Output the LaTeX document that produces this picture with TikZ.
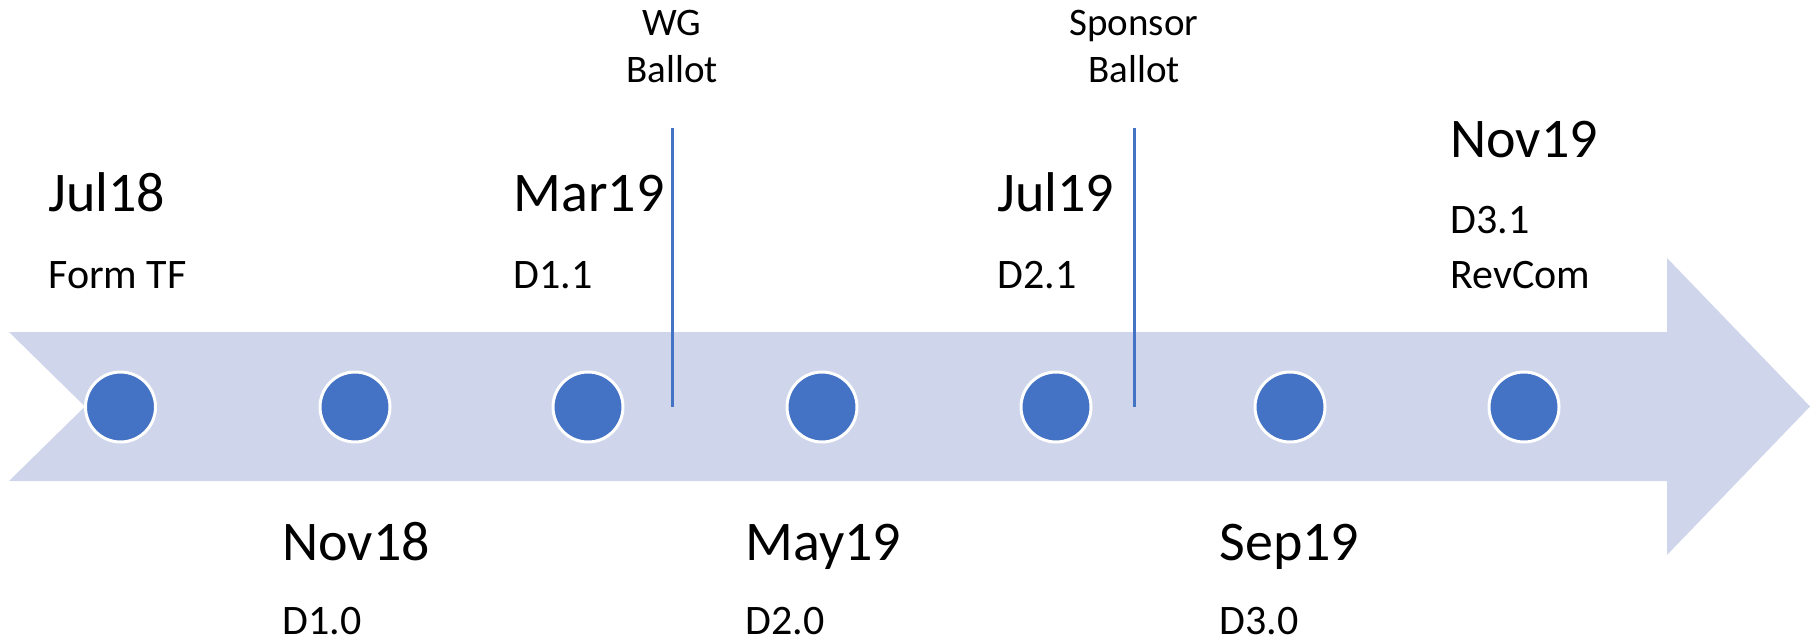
\documentclass[tikz,border=0pt]{standalone}
\usepackage{fontspec}
\setmainfont{Carlito}
\usepackage{tikz}
\usetikzlibrary{graphs}
\usepackage{xcolor}
\definecolor{bandfill}{RGB}{207,213,234}
\definecolor{dotblue}{RGB}{68,114,196}

\begin{document}
\begin{tikzpicture}[x=0.5pt, y=-0.5pt,
        dot/.style={circle, fill=dotblue, draw=white, line width=1.5pt, minimum size=35pt, inner sep=0pt},
        month/.style={anchor=base west, inner sep=0pt, font=\fontsize{28}{32}\selectfont},
        draft/.style={anchor=base west, inner sep=0pt, font=\fontsize{21}{26}\selectfont},
        ballot/.style={anchor=base, inner sep=0pt, font=\fontsize{19.5}{23}\selectfont},
        marker/.style={draw=dotblue, line width=1.5pt}]
        \useasboundingbox (0,0) rectangle (1810,642);
        \fill[bandfill] (9,332) -- (1667,332) -- (1667,258) -- (1810,406.5) -- (1667,555)
            -- (1667,481) -- (9,481) -- (85,406.5) -- cycle;

        \node[dot] (d1) at (120.5,407) {};
        \node[dot] (d2) at (355,407)   {};
        \node[dot] (d3) at (588,407)   {};
        \node[dot] (d4) at (822,407)   {};
        \node[dot] (d5) at (1056,407)  {};
        \node[dot] (d6) at (1290,407)  {};
        \node[dot] (d7) at (1524,407)  {};

        \node[month] (jul18) at (48,212)   {Jul18};
        \node[draft] (form)  at (48,288)   {Form TF};
        \node[month] (nov18) at (282,560)  {Nov18};
        \node[draft] (d10)   at (282,634)  {D1.0};
        \node[month] (mar19) at (513,212)  {Mar19};
        \node[draft] (d11)   at (513,288)  {D1.1};
        \node[month] (may19) at (745,560)  {May19};
        \node[draft] (d20)   at (745,634)  {D2.0};
        \node[month] (jul19) at (997,212)  {Jul19};
        \node[draft] (d21)   at (997,288)  {D2.1};
        \node[month] (sep19) at (1219,560) {Sep19};
        \node[draft] (d30)   at (1219,634) {D3.0};
        \node[month] (nov19) at (1450,157) {Nov19};
        \node[draft] (d31)   at (1450,233) {D3.1};
        \node[draft] (rev)   at (1450,288) {RevCom};

        \node[ballot] (wg)    at (672,36)   {WG};
        \node[ballot] (wgb)   at (672,83)   {Ballot};
        \node[ballot] (spon)  at (1134,36)  {Sponsor};
        \node[ballot] (sponb) at (1134,83)  {Ballot};

        \coordinate (wgtop)   at (672,128);
        \coordinate (wgbot)   at (672,407);
        \coordinate (spontop) at (1134,128);
        \coordinate (sponbot) at (1134,407);

        \graph {(wgtop)   --[marker] (wgbot)};
        \graph {(spontop) --[marker] (sponbot)};
    \end{tikzpicture}
\end{document}
